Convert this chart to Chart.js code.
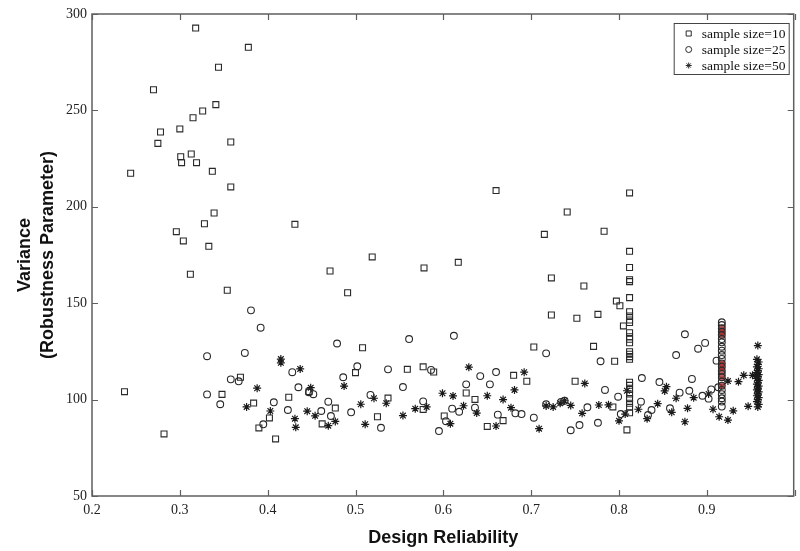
<!DOCTYPE html>
<html>
<head>
<meta charset="utf-8">
<script src="https://cdn.jsdelivr.net/npm/chart.js@4.4.1/dist/chart.umd.min.js"></script>
<style>
  html, body { margin: 0; padding: 0; background: #fff; }
</style>
</head>
<body>
<canvas id="chart" width="800" height="551"></canvas>
<script>
// sample size = 10 (squares)
const sq10X = [
  0.318,0.378,0.344,0.270,0.341,0.326,0.315,0.300,0.278,0.275,
  0.358,0.301,0.313,0.302,0.319,0.244,0.337,0.358,0.296,0.304,
  0.328,0.339,0.333,0.312,0.354,0.431,0.471,0.237,0.282,0.369,
  0.348,0.384,0.390,0.402,0.409,0.424,0.462,0.477,0.447,0.500,
  0.508,0.660,0.519,0.491,0.578,0.617,0.741,0.715,0.783,0.723,
  0.760,0.723,0.752,0.776,0.703,0.771,0.559,0.577,0.589,0.680,
  0.695,0.750,0.537,0.525,0.577,0.626,0.636,0.601,0.668,0.650,
  0.797,0.801,0.795,0.793,0.809,0.805
];
const sq10Y = [
  292.7,282.7,272.4,260.7,253.0,249.7,246.2,240.4,238.8,232.9,
  233.6,226.0,227.4,222.9,222.9,217.4,218.4,210.3,187.1,182.3,
  191.2,196.8,179.5,165.0,156.7,190.9,166.7,104.1,82.2,111.6,
  102.7,98.2,85.3,90.5,79.6,101.2,87.4,95.6,104.1,114.0,
  126.9,208.4,174.0,155.4,168.3,171.2,197.3,185.7,187.3,163.1,
  158.9,143.9,142.2,144.2,127.3,127.6,115.7,117.0,114.3,112.6,
  109.5,109.5,100.8,91.1,94.9,103.4,100.1,91.5,89.1,86.1,
  151.1,148.7,119.9,96.2,84.3,138.2
];
// the stacked column near 0.81
const sq10ColX = [
  0.812,0.812,0.812,0.812,0.812,0.812,0.812,0.812,0.812,0.812,0.812,0.812,0.812,
  0.812,0.812,0.812,0.812,0.812,0.812,0.812,0.812,0.812,0.812,0.812,0.812,0.812
];
const sq10ColY = [
  207.2,176.9,168.5,162.2,161.2,152.9,145.6,143.4,141.3,140.0,134.7,132.6,131.3,
  129.5,124.8,123.5,122.3,120.9,109.0,107.4,105.3,102.9,100.5,98.1,96.0,93.2
];

// sample size = 25 (circles)
const ci25X = [
  0.381,0.392,0.331,0.374,0.358,0.367,0.331,0.346,0.395,0.407,
  0.423,0.428,0.435,0.447,0.452,0.461,0.469,0.472,0.479,0.486,
  0.502,0.495,0.561,0.612,0.537,0.554,0.517,0.529,0.577,0.586,
  0.603,0.610,0.618,0.626,0.595,0.636,0.642,0.653,0.660,0.662,
  0.682,0.689,0.703,0.717,0.717,0.734,0.738,0.745,0.755,0.764,
  0.776,0.779,0.784,0.799,0.802,0.826,0.825,0.833,0.837,0.875,
  0.890,0.898,0.865,0.846,0.883,0.869,0.880,0.895,0.902,0.905,
  0.911,0.913,0.858
];
const ci25Y = [
  146.3,137.3,122.5,124.2,110.5,109.5,102.7,97.6,87.2,98.6,
  94.6,114.2,106.4,103.8,102.8,94.1,98.9,91.5,129.1,111.6,
  117.3,93.4,131.4,133.1,115.7,106.5,102.4,85.4,99.1,115.4,
  88.8,95.3,93.7,107.9,83.7,95.8,112.2,107.9,114.3,92.2,
  92.9,92.5,90.6,124.0,97.6,98.8,99.4,84.1,86.8,96.0,
  88.0,119.9,105.0,101.5,92.5,111.2,98.9,92.0,94.6,133.9,
  126.4,129.4,123.1,109.1,110.7,103.6,104.6,102.0,100.5,105.3,
  120.2,106.4,95.5
];
// the stacked column near 0.92
const ci25ColX = [
  0.917,0.917,0.917,0.917,0.917,0.917,0.917,0.917,0.917,0.917,0.917,0.917,
  0.917,0.917,0.917,0.917,0.917,0.917,0.917,0.917,0.917,0.917,0.917
];
const ci25ColY = [
  140.1,138.7,137.0,135.2,133.5,131.4,129.7,127.4,125.4,123.1,121.1,118.8,
  117.1,115.0,113.3,111.6,109.3,107.2,105.0,102.8,100.7,99.0,96.4
];

// sample size = 50 (asterisks)
const st50X = [
  0.415,0.415,0.437,0.388,0.376,0.403,0.431,0.432,0.449,0.445,
  0.454,0.469,0.477,0.487,0.506,0.511,0.521,0.535,0.554,0.568,
  0.581,0.599,0.611,0.623,0.608,0.629,0.638,0.650,0.660,0.668,
  0.677,0.681,0.692,0.709,0.717,0.725,0.733,0.738,0.745,0.761,
  0.758,0.777,0.788,0.800,0.809,0.807,0.822,0.832,0.854,0.852,
  0.844,0.860,0.865,0.875,0.878,0.885,0.902,0.907,0.914,0.924,
  0.924,0.930,0.936,0.942,0.947,0.952
];
const st50Y = [
  121.0,119.1,115.9,105.9,96.2,94.1,90.1,85.6,106.2,94.0,
  91.6,86.5,88.7,107.0,97.6,87.2,100.7,98.1,91.7,95.3,
  96.2,103.3,101.9,96.8,87.5,116.8,93.0,102.0,86.3,100.0,
  95.8,105.0,114.2,84.9,96.7,96.2,98.1,99.4,97.0,108.4,
  92.9,97.2,97.3,89.0,104.6,92.5,95.0,90.1,106.7,104.5,
  97.9,93.4,100.7,88.5,95.5,101.0,102.9,95.0,91.1,89.4,
  109.6,94.2,109.3,112.6,96.5,112.6
];
// the stacked column near 0.96
const st50ColX = [
  0.958,0.957,0.959,0.958,0.957,0.959,0.958,0.957,0.959,0.958,0.957,0.959,0.958,
  0.957,0.959,0.958,0.957,0.959,0.958,0.957,0.959,0.958,0.957,0.959,0.958
];
const st50ColY = [
  128.0,120.9,119.5,118.3,117.0,116.0,115.0,114.0,113.0,112.0,111.0,110.0,109.0,
  108.0,107.0,106.0,105.0,104.0,103.0,102.0,101.0,100.0,99.0,97.5,96.2
];

const seriesLabels = ['sample size=10', 'sample size=25', 'sample size=50'];

const xTicks = { min: 0.2, max: 1.0, step: 0.1 };
const yTicks = { min: 50, max: 300, step: 50 };

function toPoints(xs, ys) {
  return xs.map((x, i) => ({ x: x, y: ys[i] }));
}

const ink = '#2a2a2a';
const frameColor = '#5f5f5f';

// a few circles in the dense column look reddish in the original
const ciFill = ci25X.map(() => 'rgba(255,255,255,0)')
  .concat(ci25ColY.map((v, i) => [2, 3, 4, 11, 12, 13, 15, 17].includes(i) ? 'rgba(160,40,40,0.75)' : 'rgba(255,255,255,0)'));

const frame = {
  id: 'frame',
  afterDatasetsDraw(chart) {
    const { ctx, chartArea: a, scales } = chart;
    ctx.save();
    ctx.strokeStyle = frameColor;
    ctx.lineWidth = 1.5;
    ctx.strokeRect(a.left, a.top, a.right - a.left - 1, a.bottom - a.top);
    ctx.lineWidth = 1.2;
    ctx.beginPath();
    scales.x.ticks.forEach(t => {
      const px = Math.round(scales.x.getPixelForValue(t.value)) + 0.5;
      ctx.moveTo(px, a.bottom); ctx.lineTo(px, a.bottom - 6);
      ctx.moveTo(px, a.top); ctx.lineTo(px, a.top + 6);
    });
    scales.y.ticks.forEach(t => {
      const py = Math.round(scales.y.getPixelForValue(t.value)) + 0.5;
      ctx.moveTo(a.left, py); ctx.lineTo(a.left + 6, py);
      ctx.moveTo(a.right - 1, py); ctx.lineTo(a.right - 7, py);
    });
    ctx.stroke();
    ctx.restore();
  }
};

const boxLegend = {
  id: 'boxLegend',
  afterDraw(chart) {
    const { ctx, chartArea: a } = chart;
    const bx = a.right - 121, by = a.top + 9, bw = 115, bh = 51;
    ctx.save();
    ctx.fillStyle = '#fff';
    ctx.fillRect(bx, by, bw, bh);
    ctx.strokeStyle = '#444';
    ctx.lineWidth = 1;
    ctx.strokeRect(bx + 0.5, by + 0.5, bw, bh);
    ctx.font = '13.5px "Liberation Serif", "Times New Roman", serif';
    ctx.textBaseline = 'middle';
    chart.data.datasets.forEach((ds, i) => {
      const y = by + 10.5 + i * 16;
      ctx.strokeStyle = ink;
      ctx.fillStyle = 'rgba(255,255,255,0)';
      Chart.helpers.drawPoint(ctx, {
        pointStyle: ds.pointStyle, radius: ds.pointStyle === 'rect' ? 3.6 : 3,
        rotation: 0, borderWidth: 1
      }, bx + 15, y);
      ctx.fillStyle = '#111';
      ctx.fillText(ds.label, bx + 28, y + 1);
    });
    ctx.restore();
  }
};

new Chart(document.getElementById('chart'), {
  type: 'scatter',
  data: {
    datasets: [
      {
        label: seriesLabels[0],
        data: toPoints(sq10X.concat(sq10ColX), sq10Y.concat(sq10ColY)),
        pointStyle: 'rect', pointRadius: 4.2, pointBorderWidth: 1.1,
        borderColor: ink, backgroundColor: 'rgba(255,255,255,0)'
      },
      {
        label: seriesLabels[1],
        data: toPoints(ci25X.concat(ci25ColX), ci25Y.concat(ci25ColY)),
        pointStyle: 'circle', pointRadius: 3.4, pointBorderWidth: 1.1,
        borderColor: ink, backgroundColor: ciFill
      },
      {
        label: seriesLabels[2],
        data: toPoints(st50X.concat(st50ColX), st50Y.concat(st50ColY)),
        pointStyle: 'star', pointRadius: 4, pointBorderWidth: 1.2,
        borderColor: '#1a1a1a', backgroundColor: 'rgba(255,255,255,0)'
      }
    ]
  },
  options: {
    responsive: false,
    animation: false,
    layout: { padding: { top: 14, right: 0, left: 0, bottom: 0 } },
    plugins: { legend: { display: false }, tooltip: { enabled: false } },
    scales: {
      x: {
        type: 'linear', min: xTicks.min, max: xTicks.max,
        afterFit(s) { s.height = 55; s.paddingLeft = 0; s.paddingRight = 0; },
        grid: { display: false, drawTicks: false },
        border: { display: false },
        ticks: {
          stepSize: xTicks.step, padding: 6, maxRotation: 0, autoSkip: false,
          color: '#222',
          font: { family: '"Liberation Serif", "Times New Roman", serif', size: 14 },
          // the label at 1 is cut off by the picture's right edge
          callback: v => (v > 0.95 ? '' : v.toFixed(1))
        },
        title: {
          display: true, text: 'Design Reliability', color: '#111',
          font: { family: '"Liberation Sans", Arial, sans-serif', size: 18, weight: 'bold' },
          padding: { top: 0, bottom: 2 }
        }
      },
      y: {
        type: 'linear', min: yTicks.min, max: yTicks.max,
        afterFit(s) { s.width = 92; },
        grid: { display: false, drawTicks: false },
        border: { display: false },
        ticks: {
          stepSize: yTicks.step, padding: 5, color: '#222',
          font: { family: '"Liberation Serif", "Times New Roman", serif', size: 14 }
        },
        title: {
          display: true, text: ['Variance', '(Robustness Parameter)'], color: '#111',
          font: { family: '"Liberation Sans", Arial, sans-serif', size: 18, weight: 'bold', lineHeight: 1.25 },
          padding: { top: 14, bottom: 0 }
        }
      }
    }
  },
  plugins: [frame, boxLegend]
});
</script>
</body>
</html>
